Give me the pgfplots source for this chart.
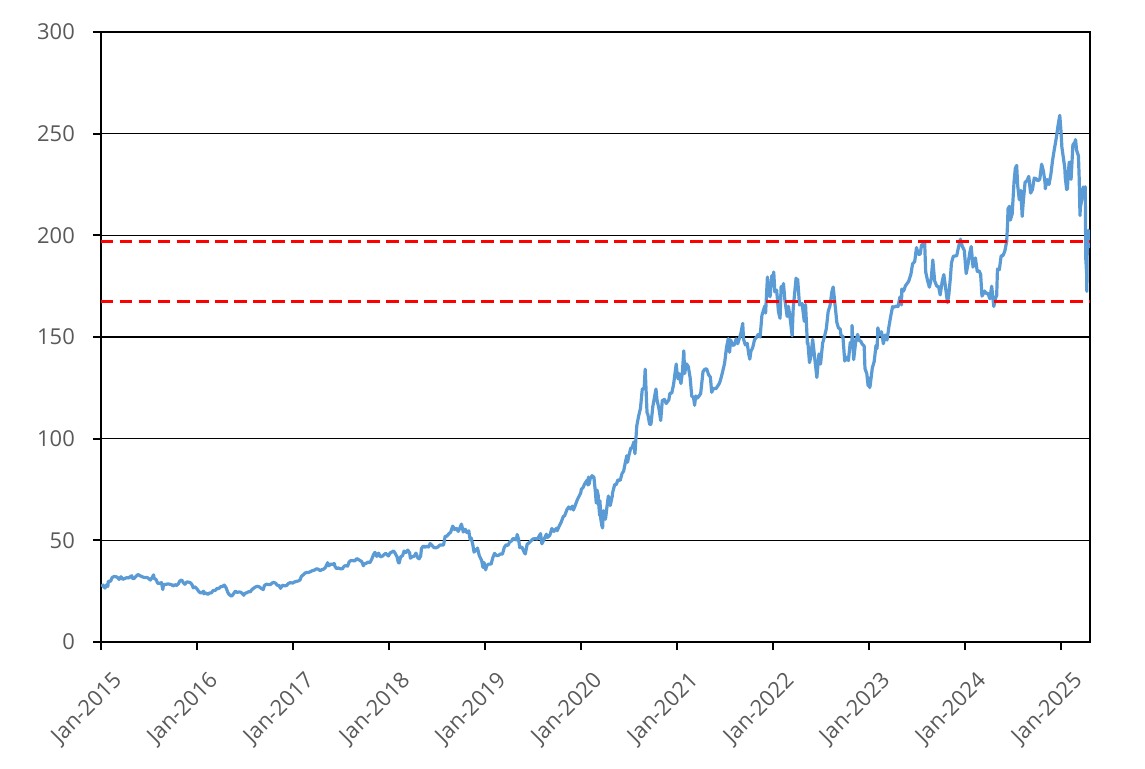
\documentclass[border=0pt]{standalone}
\usepackage{pgfplots}
\pgfplotsset{compat=1.18}
\usepgfplotslibrary{dateplot}
\usepackage{fontspec}
\setmainfont{Open Sans}
\definecolor{lineblue}{HTML}{5B9BD5}
\definecolor{labelgray}{HTML}{595959}
\begin{document}
\begin{tikzpicture}
\useasboundingbox (-101bp,-127bp) rectangle (1044bp,642bp);
\begin{axis}[
  at={(0,0)}, anchor=south west,
  scale only axis, width=989bp, height=610bp,
  date coordinates in=x,
  xmin=2015-01-01, xmax=2025-04-20,
  ymin=0, ymax=300,
  ytick={0,50,100,150,200,250,300},
  xtick={2015-01-01,2016-01-01,2017-01-01,2018-01-01,2019-01-01,2020-01-01,2021-01-01,2022-01-01,2023-01-01,2024-01-01,2025-01-01},
  xticklabels={Jan-2015,Jan-2016,Jan-2017,Jan-2018,Jan-2019,Jan-2020,Jan-2021,Jan-2022,Jan-2023,Jan-2024,Jan-2025},
  xtick pos=bottom, ytick pos=left,
  tick align=outside, major tick length=8bp,
  major tick style={black, line width=1.8bp},
  axis line style={black, line width=2bp},
  ymajorgrids, major grid style={black, line width=1.5bp},
  /pgf/number format/assume math mode=true,
  ticklabel style={font=\fontsize{22}{26}\selectfont, text=labelgray},
  xticklabel style={rotate=45, anchor=north east, inner sep=0bp, xshift=-7bp, yshift=-22bp},
  yticklabel style={inner sep=0bp, xshift=-18bp},
]
\addplot[lineblue, line width=3.2bp, line join=round] table[col sep=space] {
date value
2015-01-02 27.3
2015-01-09 28.0
2015-01-16 26.5
2015-01-23 28.2
2015-01-27 27.3
2015-01-29 29.9
2015-02-06 29.8
2015-02-13 31.8
2015-02-20 32.2
2015-02-27 32.1
2015-03-06 31.6
2015-03-11 30.8
2015-03-18 32.1
2015-03-25 30.8
2015-03-31 31.2
2015-04-08 31.6
2015-04-15 31.5
2015-04-22 32.1
2015-04-28 32.6
2015-04-30 31.3
2015-05-07 31.2
2015-05-14 32.3
2015-05-22 33.2
2015-05-29 32.6
2015-06-05 32.2
2015-06-12 31.8
2015-06-19 31.7
2015-06-26 31.7
2015-06-30 31.3
2015-07-08 30.5
2015-07-15 31.8
2015-07-20 33.0
2015-07-22 31.3
2015-07-29 30.8
2015-08-05 28.8
2015-08-12 28.9
2015-08-19 29.2
2015-08-24 25.8
2015-08-27 28.3
2015-09-02 28.2
2015-09-10 28.5
2015-09-17 28.5
2015-09-28 28.1
2015-10-02 27.5
2015-10-09 28.2
2015-10-16 27.8
2015-10-22 28.6
2015-10-28 30.0
2015-11-04 30.5
2015-11-11 29.0
2015-11-16 28.4
2015-11-24 29.6
2015-12-01 29.4
2015-12-08 29.1
2015-12-14 28.0
2015-12-18 26.6
2015-12-23 27.2
2015-12-31 26.3
2016-01-06 25.2
2016-01-13 24.2
2016-01-20 24.2
2016-01-26 25.0
2016-01-28 23.7
2016-02-03 24.2
2016-02-11 23.4
2016-02-18 24.1
2016-02-25 24.2
2016-03-03 25.4
2016-03-10 25.3
2016-03-17 26.3
2016-03-24 26.3
2016-03-31 27.2
2016-04-07 27.3
2016-04-14 28.0
2016-04-21 26.6
2016-04-27 24.5
2016-05-02 23.4
2016-05-12 22.5
2016-05-19 23.7
2016-05-26 25.0
2016-06-02 24.4
2016-06-09 24.6
2016-06-16 24.5
2016-06-27 23.0
2016-07-01 23.9
2016-07-08 24.2
2016-07-15 24.7
2016-07-22 24.7
2016-07-27 25.6
2016-08-03 26.4
2016-08-10 27.0
2016-08-17 27.4
2016-08-24 27.2
2016-08-31 26.5
2016-09-09 25.8
2016-09-14 27.8
2016-09-21 28.4
2016-09-28 28.3
2016-10-06 28.2
2016-10-13 29.0
2016-10-20 29.3
2016-10-26 28.9
2016-11-02 27.9
2016-11-09 27.7
2016-11-14 26.4
2016-11-21 27.9
2016-11-30 27.6
2016-12-07 27.8
2016-12-14 28.8
2016-12-21 29.2
2016-12-30 29.0
2017-01-06 29.5
2017-01-13 29.8
2017-01-20 30.0
2017-01-27 30.5
2017-02-01 32.2
2017-02-08 33.0
2017-02-15 33.9
2017-02-22 34.2
2017-02-28 34.2
2017-03-08 34.6
2017-03-15 35.1
2017-03-22 35.3
2017-03-31 36.0
2017-04-07 35.8
2017-04-13 35.1
2017-04-21 35.6
2017-04-28 35.9
2017-05-04 36.7
2017-05-12 39.0
2017-05-17 37.5
2017-05-24 38.3
2017-05-31 38.2
2017-06-06 38.6
2017-06-09 37.2
2017-06-15 36.1
2017-06-22 36.4
2017-06-30 36.0
2017-07-07 36.0
2017-07-14 37.3
2017-07-21 37.6
2017-07-27 37.3
2017-08-02 39.4
2017-08-09 40.1
2017-08-16 40.0
2017-08-23 39.9
2017-08-31 41.0
2017-09-06 40.6
2017-09-12 40.1
2017-09-19 39.5
2017-09-25 37.5
2017-09-29 38.5
2017-10-06 38.7
2017-10-13 39.3
2017-10-20 39.0
2017-10-27 40.8
2017-11-03 43.1
2017-11-08 44.1
2017-11-15 42.1
2017-11-22 43.7
2017-11-29 41.9
2017-12-06 42.2
2017-12-13 43.0
2017-12-19 43.6
2017-12-29 42.3
2018-01-05 43.8
2018-01-12 44.3
2018-01-18 44.8
2018-01-24 43.6
2018-01-31 41.9
2018-02-05 39.1
2018-02-08 38.9
2018-02-14 41.9
2018-02-21 42.4
2018-02-27 44.7
2018-03-06 44.0
2018-03-13 45.2
2018-03-20 43.8
2018-03-23 41.2
2018-03-29 41.9
2018-04-06 42.1
2018-04-13 43.7
2018-04-20 41.4
2018-04-25 40.9
2018-05-01 42.3
2018-05-04 46.0
2018-05-11 47.2
2018-05-18 46.6
2018-05-25 47.1
2018-05-31 46.7
2018-06-06 48.4
2018-06-13 47.5
2018-06-20 46.5
2018-06-28 46.3
2018-07-06 46.8
2018-07-13 47.7
2018-07-20 47.7
2018-07-27 47.7
2018-08-02 51.9
2018-08-09 52.1
2018-08-16 53.2
2018-08-23 54.0
2018-08-31 57.0
2018-09-07 55.3
2018-09-14 55.9
2018-09-21 54.4
2018-09-28 56.4
2018-10-03 58.0
2018-10-10 54.1
2018-10-17 55.5
2018-10-24 53.8
2018-10-31 54.7
2018-11-05 50.4
2018-11-09 51.2
2018-11-15 48.0
2018-11-20 44.2
2018-11-28 45.2
2018-12-03 46.2
2018-12-10 42.4
2018-12-14 41.4
2018-12-19 40.0
2018-12-24 36.7
2018-12-28 39.1
2019-01-03 35.5
2019-01-08 37.7
2019-01-15 38.3
2019-01-24 38.3
2019-01-30 41.3
2019-02-06 43.6
2019-02-13 42.5
2019-02-21 42.6
2019-02-28 43.3
2019-03-08 43.2
2019-03-15 46.5
2019-03-22 47.8
2019-03-29 47.5
2019-04-05 49.3
2019-04-12 49.7
2019-04-18 51.0
2019-04-30 50.2
2019-05-03 52.9
2019-05-08 50.7
2019-05-13 46.4
2019-05-21 46.7
2019-05-31 43.8
2019-06-03 43.3
2019-06-10 48.1
2019-06-17 48.7
2019-06-24 49.6
2019-07-02 50.7
2019-07-12 50.8
2019-07-19 50.6
2019-07-31 53.3
2019-08-05 48.3
2019-08-12 50.1
2019-08-22 53.0
2019-08-26 51.4
2019-09-04 52.4
2019-09-12 55.8
2019-09-20 54.4
2019-09-30 56.0
2019-10-02 54.7
2019-10-10 57.0
2019-10-18 59.1
2019-10-25 61.6
2019-10-31 62.2
2019-11-08 65.0
2019-11-15 66.4
2019-11-22 65.4
2019-11-29 66.8
2019-12-03 64.9
2019-12-12 67.9
2019-12-18 70.0
2019-12-31 73.4
2020-01-02 75.1
2020-01-08 75.8
2020-01-15 77.8
2020-01-24 79.6
2020-01-27 77.2
2020-01-29 81.1
2020-01-31 77.4
2020-02-05 80.4
2020-02-12 81.8
2020-02-19 81.0
2020-02-24 74.5
2020-02-28 68.3
2020-03-02 74.7
2020-03-06 72.3
2020-03-09 66.5
2020-03-12 62.1
2020-03-13 69.5
2020-03-16 60.6
2020-03-20 57.3
2020-03-23 56.1
2020-03-26 64.6
2020-03-31 63.6
2020-04-03 60.4
2020-04-09 66.9
2020-04-14 71.8
2020-04-21 67.1
2020-04-29 71.9
2020-04-30 73.4
2020-05-08 77.5
2020-05-14 77.4
2020-05-20 79.7
2020-05-29 79.5
2020-06-05 82.9
2020-06-11 84.0
2020-06-17 88.0
2020-06-23 91.6
2020-06-26 88.4
2020-06-30 91.2
2020-07-08 95.3
2020-07-13 95.5
2020-07-20 98.4
2020-07-24 92.6
2020-07-31 106.3
2020-08-07 111.1
2020-08-14 114.9
2020-08-21 124.4
2020-08-28 124.8
2020-09-01 134.2
2020-09-08 112.8
2020-09-11 112.0
2020-09-18 107.0
2020-09-23 107.1
2020-09-30 115.8
2020-10-12 124.4
2020-10-16 119.0
2020-10-23 115.0
2020-10-30 108.9
2020-11-05 118.7
2020-11-13 119.3
2020-11-20 117.3
2020-11-30 119.1
2020-12-04 122.3
2020-12-11 122.4
2020-12-18 126.7
2020-12-28 136.7
2020-12-31 132.7
2021-01-04 129.4
2021-01-08 132.0
2021-01-15 127.1
2021-01-20 132.0
2021-01-26 143.2
2021-01-29 132.0
2021-02-05 136.8
2021-02-12 135.4
2021-02-19 129.9
2021-02-25 121.0
2021-03-04 120.1
2021-03-08 116.4
2021-03-12 121.0
2021-03-19 120.0
2021-03-26 121.2
2021-03-31 122.2
2021-04-09 133.0
2021-04-16 134.2
2021-04-23 134.3
2021-04-30 131.5
2021-05-07 130.2
2021-05-12 122.8
2021-05-19 124.7
2021-05-28 124.6
2021-06-04 125.9
2021-06-11 127.4
2021-06-18 130.5
2021-06-30 137.0
2021-07-07 144.6
2021-07-14 149.2
2021-07-19 142.5
2021-07-23 148.6
2021-07-30 145.9
2021-08-06 146.1
2021-08-13 149.1
2021-08-19 146.7
2021-08-31 151.8
2021-09-07 156.7
2021-09-10 149.0
2021-09-17 146.1
2021-09-24 146.9
2021-09-30 141.5
2021-10-04 139.1
2021-10-08 142.9
2021-10-15 144.8
2021-10-22 148.7
2021-10-29 149.8
2021-11-05 151.3
2021-11-12 150.0
2021-11-19 160.6
2021-11-30 165.3
2021-12-03 161.8
2021-12-10 179.5
2021-12-13 175.7
2021-12-17 171.1
2021-12-20 169.8
2021-12-27 180.3
2021-12-31 177.6
2022-01-03 182.0
2022-01-07 172.2
2022-01-14 173.1
2022-01-21 162.4
2022-01-27 159.2
2022-01-31 174.8
2022-02-04 172.4
2022-02-09 176.3
2022-02-14 168.6
2022-02-23 160.1
2022-02-28 165.1
2022-03-08 157.4
2022-03-14 150.6
2022-03-18 164.0
2022-03-29 179.0
2022-03-31 174.6
2022-04-04 178.4
2022-04-11 165.8
2022-04-21 166.4
2022-04-29 157.7
2022-05-04 166.0
2022-05-11 146.5
2022-05-13 147.1
2022-05-19 137.4
2022-05-24 140.4
2022-05-31 148.8
2022-06-03 145.4
2022-06-10 137.1
2022-06-16 130.1
2022-06-24 141.7
2022-06-30 136.7
2022-07-08 147.0
2022-07-15 150.2
2022-07-22 154.1
2022-07-29 162.5
2022-08-05 165.4
2022-08-12 172.1
2022-08-17 174.6
2022-08-26 163.6
2022-08-31 157.2
2022-09-06 154.5
2022-09-13 153.8
2022-09-16 150.7
2022-09-23 150.4
2022-09-30 138.2
2022-10-07 140.1
2022-10-14 138.4
2022-10-21 147.3
2022-10-27 144.8
2022-10-28 155.7
2022-11-03 138.9
2022-11-10 146.9
2022-11-18 151.3
2022-11-25 148.1
2022-11-30 148.0
2022-12-05 146.6
2022-12-13 145.5
2022-12-16 134.5
2022-12-23 131.9
2022-12-28 126.0
2022-12-30 129.9
2023-01-03 125.1
2023-01-05 126.4
2023-01-13 134.8
2023-01-20 137.9
2023-01-27 145.9
2023-01-31 144.3
2023-02-03 154.5
2023-02-10 151.0
2023-02-17 152.6
2023-02-24 146.7
2023-03-03 151.0
2023-03-10 148.5
2023-03-17 155.0
2023-03-24 160.3
2023-03-31 164.9
2023-04-06 164.7
2023-04-14 165.2
2023-04-21 165.0
2023-04-28 169.7
2023-05-04 165.8
2023-05-05 173.6
2023-05-12 172.6
2023-05-19 175.2
2023-05-31 177.3
2023-06-09 181.0
2023-06-15 186.0
2023-06-23 187.0
2023-06-30 194.0
2023-07-07 190.7
2023-07-14 190.7
2023-07-19 195.1
2023-07-31 196.5
2023-08-04 182.0
2023-08-11 177.8
2023-08-18 174.5
2023-08-25 178.6
2023-08-31 187.9
2023-09-07 177.6
2023-09-15 175.0
2023-09-22 174.8
2023-09-28 170.7
2023-10-06 177.5
2023-10-12 180.7
2023-10-20 172.9
2023-10-26 166.9
2023-10-31 170.8
2023-11-06 179.2
2023-11-10 186.4
2023-11-17 189.7
2023-11-30 190.0
2023-12-07 194.3
2023-12-14 198.1
2023-12-21 194.7
2023-12-29 192.5
2024-01-03 184.3
2024-01-05 181.2
2024-01-12 185.9
2024-01-19 191.6
2024-01-24 194.5
2024-01-31 184.4
2024-02-09 188.9
2024-02-16 182.3
2024-02-23 182.5
2024-02-29 180.8
2024-03-05 170.1
2024-03-08 170.7
2024-03-15 172.6
2024-03-21 171.4
2024-03-28 171.5
2024-04-04 168.8
2024-04-11 175.0
2024-04-19 165.0
2024-04-26 169.3
2024-04-30 170.3
2024-05-03 183.4
2024-05-10 183.1
2024-05-17 189.9
2024-05-24 190.0
2024-05-31 192.3
2024-06-07 196.9
2024-06-11 207.2
2024-06-12 213.1
2024-06-18 214.3
2024-06-21 207.5
2024-06-28 210.6
2024-07-05 226.3
2024-07-10 233.0
2024-07-15 234.4
2024-07-19 224.3
2024-07-25 217.5
2024-07-31 222.1
2024-08-05 209.3
2024-08-09 216.2
2024-08-16 226.1
2024-08-23 226.8
2024-08-30 229.0
2024-09-06 220.8
2024-09-13 222.5
2024-09-20 228.2
2024-09-27 227.8
2024-10-04 226.8
2024-10-11 227.6
2024-10-18 235.0
2024-10-25 231.4
2024-10-31 225.9
2024-11-01 222.9
2024-11-08 227.5
2024-11-15 225.0
2024-11-22 229.9
2024-11-29 237.3
2024-12-06 242.8
2024-12-13 248.1
2024-12-20 254.5
2024-12-26 259.0
2024-12-31 250.4
2025-01-03 243.4
2025-01-10 236.9
2025-01-14 233.3
2025-01-16 228.3
2025-01-21 222.6
2025-01-24 222.8
2025-01-27 229.9
2025-01-31 236.0
2025-02-03 228.0
2025-02-07 227.6
2025-02-14 244.6
2025-02-21 245.6
2025-02-24 247.1
2025-02-28 241.8
2025-03-07 239.1
2025-03-10 227.5
2025-03-11 220.8
2025-03-13 209.7
2025-03-14 213.5
2025-03-21 218.3
2025-03-25 223.8
2025-03-31 222.1
2025-04-02 223.9
2025-04-03 203.2
2025-04-04 188.4
2025-04-07 181.5
2025-04-08 172.4
2025-04-09 198.9
2025-04-10 190.4
2025-04-11 198.2
2025-04-14 202.5
2025-04-16 194.3
2025-04-17 197.0
};
\addplot[red, line width=3.8bp, dash pattern=on 12.5bp off 6.5bp] coordinates {(2015-01-01,197) (2025-04-17,197)};
\addplot[red, line width=3.8bp, dash pattern=on 12.5bp off 6.5bp] coordinates {(2015-01-01,167.5) (2025-04-17,167.5)};
\end{axis}
\end{tikzpicture}
\end{document}
